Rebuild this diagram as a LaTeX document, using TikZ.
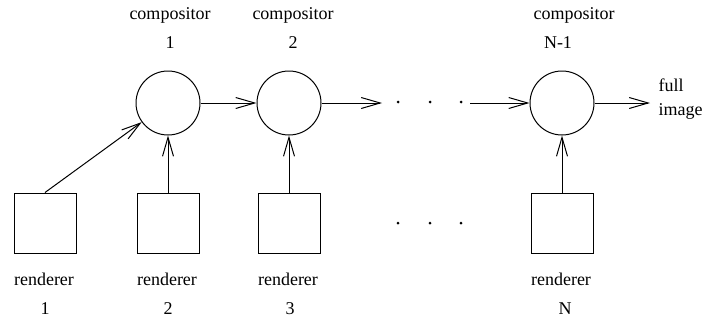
\documentclass[tikz,border=0pt]{standalone}
\usepackage{fontspec}
\setmainfont{Liberation Serif}
\usetikzlibrary{arrows.meta}
\begin{document}
\begin{tikzpicture}[x=1pt,y=-1pt,line width=1pt,
  comp/.style={draw,circle,minimum size=64pt,inner sep=0pt},
  rend/.style={draw,rectangle,minimum width=62pt,minimum height=60pt,inner sep=0pt},
  lbl/.style={inner sep=0pt,font=\fontsize{18}{22}\selectfont},
  flow/.style={-{Straight Barb[length=19pt,width=11pt]}},
  dot/.style={circle,fill,inner sep=0pt,minimum size=3pt}]
\useasboundingbox (0,0) rectangle (707,322);
% compositors
\node[comp] (c1) at (168,103) {};
\node[comp] (c2) at (289,103) {};
\node[comp] (cn) at (562,103) {};
% renderers
\node[rend] (r1) at (45,223) {};
\node[rend] (r2) at (168,223) {};
\node[rend] (r3) at (289,223) {};
\node[rend] (rn) at (562,223) {};
% dots
\node[dot] (d1) at (398,102) {};
\node[dot] (d2) at (430,102) {};
\node[dot] (d3) at (461,102) {};
\node[dot] (e1) at (398,223) {};
\node[dot] (e2) at (430,223) {};
\node[dot] (e3) at (461,223) {};
\coordinate (a2end) at (382,103);
\coordinate (anstart) at (470,103);
\coordinate (outend) at (650,103);
% connectors
\draw[flow] (r1.north) -- (c1);
\draw[flow] (r2.north) -- (c1.south);
\draw[flow] (r3.north) -- (c2.south);
\draw[flow] (rn.north) -- (cn.south);
\draw[flow] (c1.east) -- (c2.west);
\draw[flow] (c2.east) -- (a2end);
\draw[flow] (anstart) -- (cn.west);
\draw[flow] (cn.east) -- (outend);
% labels
\node[lbl,anchor=base] (t1) at (170,19) {compositor};
\node[lbl,anchor=base] (n1) at (170,48) {1};
\node[lbl,anchor=base] (t2) at (293,19) {compositor};
\node[lbl,anchor=base] (n2) at (293,48) {2};
\node[lbl,anchor=base] (tn) at (574,19) {compositor};
\node[lbl,anchor=base] (nn) at (558,48) {N-1};
\node[lbl,anchor=base west] (f1) at (658,91) {full};
\node[lbl,anchor=base west] (f2) at (658,115) {image};
\node[lbl,anchor=base] (s1) at (44,285) {renderer};
\node[lbl,anchor=base] (m1) at (45,314) {1};
\node[lbl,anchor=base] (s2) at (167,285) {renderer};
\node[lbl,anchor=base] (m2) at (168,314) {2};
\node[lbl,anchor=base] (s3) at (288,285) {renderer};
\node[lbl,anchor=base] (m3) at (290,314) {3};
\node[lbl,anchor=base] (sn) at (561,285) {renderer};
\node[lbl,anchor=base] (mn) at (565,314) {N};
\end{tikzpicture}
\end{document}
